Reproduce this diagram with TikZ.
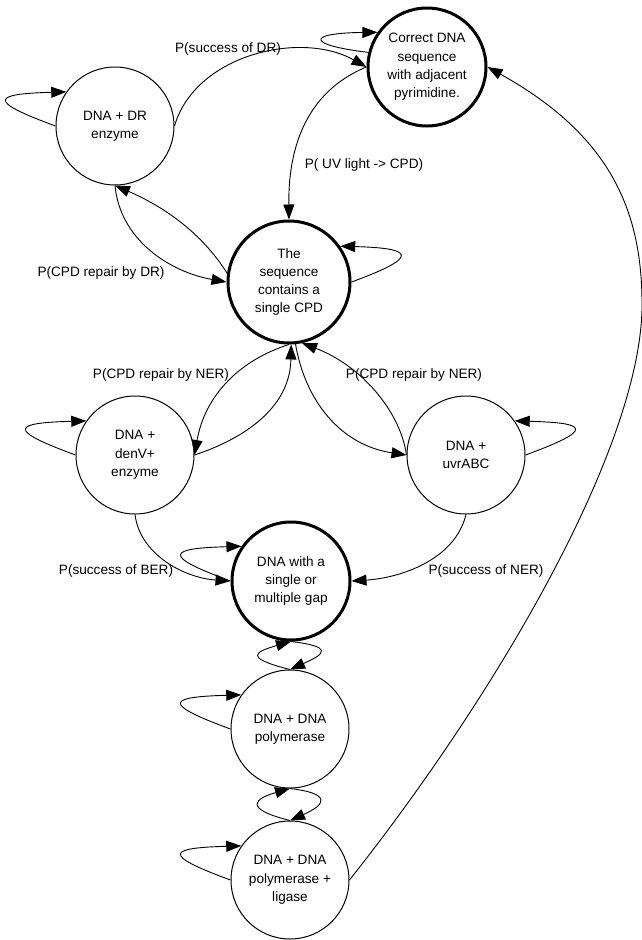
\documentclass[tikz,border=0pt]{standalone}
\usepackage{fontspec}
\setmainfont{Liberation Sans}
\usetikzlibrary{arrows.meta, calc}

\begin{document}
\begin{tikzpicture}[x=1pt, y=-1pt, font=\fontsize{13.6}{18.3}\selectfont,
  state/.style={circle, draw, line width=1pt, minimum size=118pt, inner sep=0pt, align=center},
  key/.style={state, line width=3pt},
  arr/.style={line width=0.9pt, -{Triangle[length=15pt, width=11pt]}}]
  \useasboundingbox (0,0) rectangle (642,940);

  % States
  \node[key] (correct) at (427,67) {Correct DNA\\sequence\\with adjacent\\pyrimidine.};
  \node[state] (dr) at (115,126) {DNA + DR\\enzyme};
  \node[key, minimum size=122pt] (cpd) at (289,282) {The\\sequence\\contains a\\single CPD};
  \node[state] (denv) at (135,455) {DNA +\\denV+\\enzyme};
  \node[state] (uvr) at (466,455) {DNA +\\uvrABC};
  \node[key] (gap) at (291,581) {DNA with a\\single or\\multiple gap};
  \node[state] (pol) at (290,729) {DNA + DNA\\polymerase};
  \node[state] (lig) at (290,880) {DNA + DNA\\polymerase +\\ligase};

  % Probabilities
  \node (psdr) at (228,49) {P(success of DR)};
  \node (puv) at (364,165) {P( UV light -> CPD)};
  \node (prdr) at (101,273) {P(CPD repair by DR)};
  \node (pnerl) at (161,375) {P(CPD repair by NER)};
  \node (pnerr) at (414,375) {P(CPD repair by NER)};
  \node (pber) at (116,571) {P(success of BER)};
  \node (psner) at (486,571) {P(success of NER)};

  % Transitions
  \draw[arr] (dr.east) .. controls (195,55) and (300,30) .. (correct.west);
  \draw[arr] (correct.west) .. controls (315,88) and (288,135) .. (cpd.north);
  \draw[arr] (dr.south) .. controls (120,240) and (170,272) .. (cpd.west);
  \draw[arr] (cpd.172) .. controls (200,230) and (160,205) .. (dr.south);
  \draw[arr] (cpd.-90) .. controls (240,360) and (205,395) .. (denv.east);
  \draw[arr] (denv.east) .. controls (240,440) and (290,410) .. (cpd.-88);
  \draw[arr] (cpd.-84) .. controls (305,400) and (340,445) .. (uvr.west);
  \draw[arr] (uvr.west) .. controls (400,410) and (360,365) .. (cpd.-78);
  \draw[arr] (denv.south) .. controls (140,555) and (185,578) .. (gap.west);
  \draw[arr] (uvr.south) .. controls (455,560) and (400,578) .. (gap.east);
  \draw[arr] (lig.east) .. controls (500,690) and (645,440) .. (642,300)
    .. controls (641,210) and (610,135) .. (correct.east);

  % Between the lower states
  \foreach \a/\b in {gap/pol, pol/lig} {
    \draw[arr] (\b.north) .. controls ($(\b.north)+(-48,-12)$) and ($(\a.south)+(-35,10)$) .. (\a.south);
    \draw[arr] (\a.south) .. controls ($(\a.south)+(42,5)$) and ($(\b.north)+(36,-16)$) .. (\b.north);
  }

  % Self loops
  \foreach \n in {dr, denv, gap, pol, lig}
    \draw[arr] (\n.180) .. controls ($(\n.180)+(-71,-26)$) and ($(\n.145)+(-72,2)$) .. (\n.145);
  \foreach \n in {cpd, uvr}
    \draw[arr] (\n.0) .. controls ($(\n.0)+(71,-26)$) and ($(\n.35)+(72,2)$) .. (\n.35);
  \draw[arr] (correct.166) .. controls (306,45) and (306,33) .. (correct.145);
\end{tikzpicture}
\end{document}
